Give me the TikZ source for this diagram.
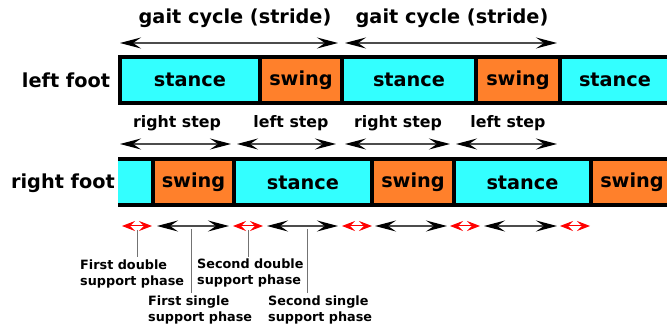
\documentclass[tikz,border=0pt]{standalone}
\usepackage{fontspec}
\setmainfont{DejaVu Sans}
\usetikzlibrary{arrows.meta}
\definecolor{stancecol}{rgb}{.2,1,1}
\definecolor{swingcol}{rgb}{1,.5,.17}

\tikzset{
	phase/.style={line width=4pt, minimum height=46pt, inner sep=0pt, outer sep=0pt,
		font=\fontsize{19.3}{22}\selectfont\bfseries},
	stance/.style={phase, draw=black, fill=stancecol},
	swing/.style={phase, draw=black, fill=swingcol},
	spanarrow/.style={black!70, line width=1.3pt, <->,
		>={Stealth[length=21pt, width=11pt, inset=8pt, black]}},
	dsarrow/.style={red, line width=1pt, <->,
		>={Stealth[length=13pt, width=10pt, inset=5pt]}},
	leader/.style={black!55, line width=.9pt},
	bigtext/.style={font=\fontsize{19.3}{22}\selectfont\bfseries},
	steptext/.style={font=\fontsize{15.8}{18}\selectfont\bfseries},
	phasetext/.style={font=\fontsize{12.8}{16}\selectfont\bfseries, align=left,
		anchor=north west, inner sep=0pt}
}

\begin{document}
\begin{tikzpicture}[x=1pt, y=-1pt]

	\useasboundingbox (0,0) rectangle (667,328);

	% left foot
	\node[bigtext] (lf) at (66,80) {left foot};
	\node[stance, minimum width=140pt] (l1) at (190,80) {stance};
	\node[swing, minimum width=82pt] (l2) at (301,80) {swing};
	\node[stance, minimum width=134pt] (l3) at (409,80) {stance};
	\node[swing, minimum width=84pt] (l4) at (518,80) {swing};
	\node[stance, minimum width=110pt] (l5) at (615,80) {stance};

	\node[bigtext] (gc1) at (235,18) {gait cycle (stride)};
	\node[bigtext] (gc2) at (452,18) {gait cycle (stride)};
	\draw[spanarrow] (120,43) -- (338,43);
	\draw[spanarrow] (345,43) -- (557,43);

	% right foot (open at the left end)
	\node[bigtext] (rf) at (63,183) {right foot};
	\node[phase, fill=stancecol, minimum width=37pt] (r1) at (136.5,182.5) {};
	\draw[line width=4pt] (r1.north west) -- (r1.north east);
	\draw[line width=4pt] (r1.south west) -- (r1.south east);
	\node[swing, minimum width=81pt] (r2) at (193.5,182.5) {swing};
	\node[stance, minimum width=138pt] (r3) at (303,182.5) {stance};
	\node[swing, minimum width=82pt] (r4) at (413,182.5) {swing};
	\node[stance, minimum width=137pt] (r5) at (522.5,182.5) {stance};
	\node[swing, minimum width=82pt] (r6) at (632,182.5) {swing};

	\node[steptext] (rs1) at (177,123) {right step};
	\node[steptext] (ls1) at (291,123) {left step};
	\node[steptext] (rs2) at (398,123) {right step};
	\node[steptext] (ls2) at (508,123) {left step};
	\draw[spanarrow] (120,144) -- (231,144);
	\draw[spanarrow] (237,144) -- (336,144);
	\draw[spanarrow] (345,144) -- (450,144);
	\draw[spanarrow] (456,144) -- (557,144);

	% support phases
	\draw[dsarrow] (122,226) -- (152,226);
	\draw[spanarrow] (157,226) -- (229,226);
	\draw[dsarrow] (233,226) -- (263,226);
	\draw[spanarrow] (267,226) -- (338,226);
	\draw[dsarrow] (342,226) -- (372,226);
	\draw[spanarrow] (375,226) -- (447,226);
	\draw[dsarrow] (450,226) -- (480,226);
	\draw[spanarrow] (484,226) -- (557,226);
	\draw[dsarrow] (560,226) -- (590,226);

	\node[phasetext] (fds) at (80,260) {First double\\support phase};
	\node[phasetext] (sds) at (197,259) {Second double\\support phase};
	\node[phasetext] (fss) at (148,296) {First single\\support phase};
	\node[phasetext] (sss) at (268,296) {Second single\\support phase};

	\draw[leader] (137,230) -- (137,257);
	\draw[leader] (191,229) -- (191,293);
	\draw[leader] (248,230) -- (248,257);
	\draw[leader] (307,229) -- (307,293);

\end{tikzpicture}
\end{document}
